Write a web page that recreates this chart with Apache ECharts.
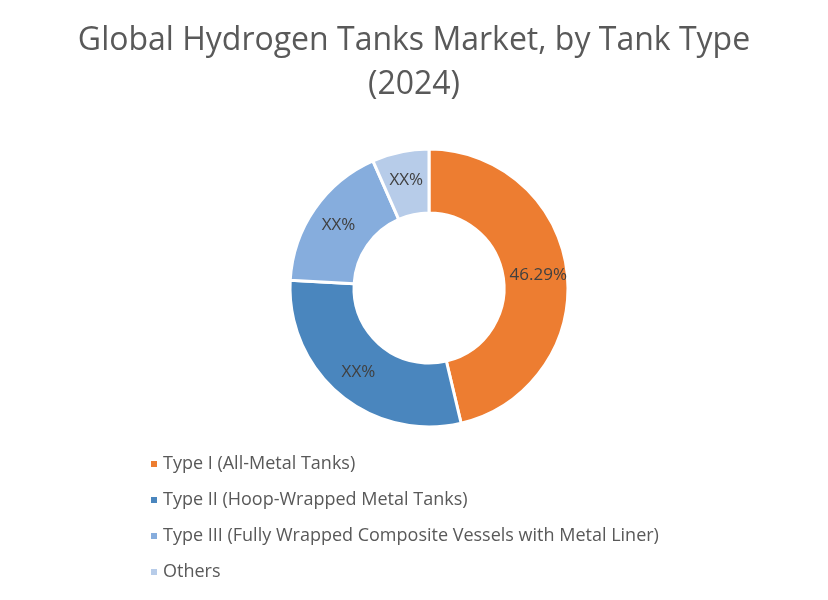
<!DOCTYPE html>
<html><head><meta charset="utf-8">
<script src="https://cdn.jsdelivr.net/npm/echarts@6/dist/echarts.min.js"></script>
<style>html,body{margin:0;background:#fff}#c{width:828px;height:600px}</style>
</head><body><div id="c"></div>
<script>
const categories = ["Type I (All-Metal Tanks)","Type II (Hoop-Wrapped Metal Tanks)","Type III (Fully Wrapped Composite Vessels with Metal Liner)","Others"];
const values = [46.29, 29.6, 17.5, 6.61];
const labels = ["46.29%","XX%","XX%","XX%"];
const colors = ["#ED7D31","#4A86BE","#86ADDD","#B7CCE9"];
const chart = echarts.init(document.getElementById('c'));
chart.setOption({
  animation:false,
  title:{text:"Global Hydrogen Tanks Market, by Tank Type\n(2024)",left:'center',top:14,
    textStyle:{fontFamily:'Open Sans',fontSize:32,fontWeight:'normal',color:'#595959',lineHeight:44}},
  legend:{orient:'vertical',left:144,top:449,itemWidth:8,itemHeight:8,itemGap:16,icon:'rect',
    textStyle:{fontFamily:'Open Sans',fontSize:18,lineHeight:20,color:'#595959'},data:categories},
  series:[{type:'pie',center:[429,288],radius:[75,139],startAngle:90,clockwise:true,
    itemStyle:{borderColor:'#fff',borderWidth:3},
    label:{position:'inside',fontFamily:'Open Sans',fontSize:17,color:'#404040',
      formatter:p=>labels[p.dataIndex]},
    labelLine:{show:false},
    data:categories.map((n,i)=>({name:n,value:values[i],itemStyle:{color:colors[i]}}))}]
});
</script></body></html>
